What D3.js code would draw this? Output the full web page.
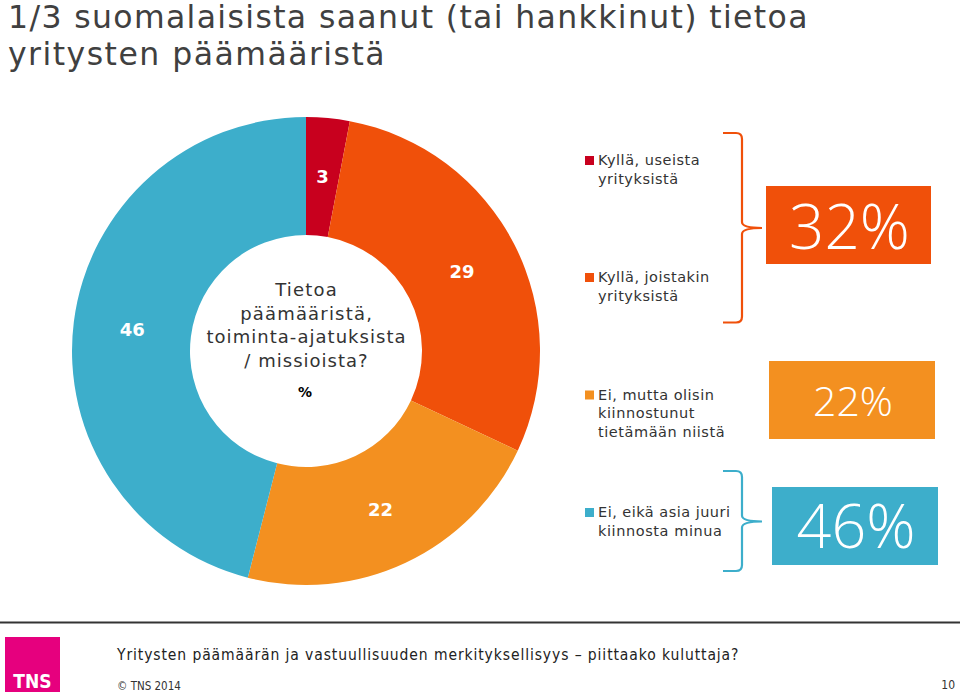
<!DOCTYPE html>
<html><head><meta charset="utf-8">
<script src="https://cdn.jsdelivr.net/npm/d3@7"></script>
<style>html,body{margin:0;padding:0;background:#fff;}svg{display:block;}</style>
</head><body>
<script>
const titleLines = ["1/3 suomalaisista saanut (tai hankkinut) tietoa", "yritysten päämääristä"];
const categories = ["Kyllä, useista yrityksistä", "Kyllä, joistakin yrityksistä", "Ei, mutta olisin kiinnostunut tietämään niistä", "Ei, eikä asia juuri kiinnosta minua"];
const legendLines = [["Kyllä, useista", "yrityksistä"], ["Kyllä, joistakin", "yrityksistä"], ["Ei, mutta olisin", "kiinnostunut", "tietämään niistä"], ["Ei, eikä asia juuri", "kiinnosta minua"]];
const values = [3, 29, 22, 46];
const colors = ["#C8001E", "#F0500A", "#F39020", "#3DAECB"];
const centerLines = ["Tietoa", "päämääristä,", "toiminta-ajatuksista", "/ missioista?"];
const unitLabel = "%";
const summaryLabels = ["32%", "22%", "46%"];
const summaryColors = ["#F0500A", "#F39020", "#3DAECB"];
const footerText = "Yritysten päämäärän ja vastuullisuuden merkityksellisyys – piittaako kuluttaja?";
const copyrightText = "© TNS 2014";
const pageNumber = "10";

const W = 960, H = 697;
const svg = d3.select("body").append("svg").attr("width", W).attr("height", H);
const font = "'DejaVu Sans', Verdana, sans-serif";

// widen DejaVu text to Verdana-like widths by spacing
function spread(sel, k) {
  sel.each(function () {
    const L = this.getComputedTextLength();
    d3.select(this).attr("textLength", L * k).attr("lengthAdjust", "spacing");
  });
}

// Title
svg.append("g").selectAll("text").data(titleLines).join("text")
  .attr("x", 8).attr("y", (d, i) => 28 + i * 37)
  .attr("font-family", font).attr("font-size", 31.5).attr("fill", "#404040")
  .text(d => d).call(spread, 1.085);

// Donut
const cx = 306, cy = 351, rOuter = 234, rInner = 116;
const pie = d3.pie().sort(null).value(d => d)(values);
const arc = d3.arc().innerRadius(rInner).outerRadius(rOuter);
const g = svg.append("g").attr("transform", `translate(${cx},${cy})`);
g.selectAll("path").data(pie).join("path")
  .attr("d", arc).attr("fill", (d, i) => colors[i]);
g.selectAll("text.lbl").data(pie).join("text").attr("class", "lbl")
  .attr("transform", d => `translate(${arc.centroid(d)})`)
  .attr("text-anchor", "middle").attr("dy", "0.36em")
  .attr("font-family", font).attr("font-weight", "bold").attr("font-size", 18)
  .attr("fill", "#fff").text(d => d.data);

// Center text
g.append("g").selectAll("text").data(centerLines).join("text")
  .attr("x", 0).attr("y", (d, i) => -55 + i * 23.5)
  .attr("text-anchor", "middle").attr("font-family", font).attr("font-size", 18)
  .attr("fill", "#333").text(d => d).call(spread, 1.11);
g.append("text").attr("x", -1).attr("y", 46).attr("text-anchor", "middle")
  .attr("font-family", font).attr("font-size", 14).attr("font-weight", "bold")
  .attr("fill", "#000").text(unitLabel);

// Legend
const legendTops = [165, 282, 399.5, 517];
const lg = svg.append("g");
categories.forEach((c, i) => {
  lg.append("rect").attr("x", 585).attr("y", legendTops[i] - 9).attr("width", 9).attr("height", 9).attr("fill", colors[i]);
  lg.append("g").selectAll("text").data(legendLines[i]).join("text")
    .attr("x", 598).attr("y", (d, j) => legendTops[i] + j * 18.5)
    .attr("font-family", font).attr("font-size", 14.5).attr("fill", "#333").text(d => d)
    .call(spread, 1.07);
});

// Braces
function brace(x0, y0, y1, ym, color) {
  const xv = x0 + 19, xt = x0 + 39, c = 6;
  const p = d3.path();
  p.moveTo(x0, y0);
  p.lineTo(xv - c, y0);
  p.quadraticCurveTo(xv, y0, xv, y0 + c);
  p.lineTo(xv, ym - c);
  p.quadraticCurveTo(xv, ym, xt, ym);
  p.moveTo(xv, ym + c);
  p.quadraticCurveTo(xv, ym, xt, ym);
  p.moveTo(xv, ym + c);
  p.lineTo(xv, y1 - c);
  p.quadraticCurveTo(xv, y1, xv - c, y1);
  p.lineTo(x0, y1);
  svg.append("path").attr("d", p.toString()).attr("fill", "none")
    .attr("stroke", color).attr("stroke-width", 2.2);
}
brace(723, 133, 322.5, 228, "#F0500A");
brace(723, 471, 571, 521.5, "#3DAECB");

// Summary boxes
const boxes = [
  {x: 766, y: 186, w: 165, h: 78, fs: 62, ty: 248.5},
  {x: 769, y: 361, w: 166, h: 78, fs: 41, ty: 415.5},
  {x: 772, y: 487, w: 166, h: 78, fs: 61, ty: 547.5}
];
boxes.forEach((b, i) => {
  svg.append("rect").attr("x", b.x).attr("y", b.y).attr("width", b.w).attr("height", b.h).attr("fill", summaryColors[i]);
  svg.append("text").attr("x", b.x + b.w / 2 + 1).attr("y", b.ty).attr("text-anchor", "middle")
    .attr("font-family", "'Open Sans', sans-serif").attr("font-weight", 300).attr("font-size", b.fs)
    .attr("fill", "#fff").text(summaryLabels[i]);
});

// Footer
const ffont = "'DejaVu Sans Condensed', 'DejaVu Sans', sans-serif";
svg.append("line").attr("x1", 0).attr("x2", W).attr("y1", 622.5).attr("y2", 622.5)
  .attr("stroke", "#333").attr("stroke-width", 2);
svg.append("rect").attr("x", 5).attr("y", 637).attr("width", 55).attr("height", 55).attr("fill", "#E6007E");
svg.append("text").attr("x", 32.5).attr("y", 688).attr("text-anchor", "middle")
  .attr("font-family", ffont).attr("font-weight", "bold")
  .attr("font-size", 19).attr("fill", "#fff").text("TNS");
svg.append("text").attr("x", 117).attr("y", 660).attr("font-family", ffont)
  .attr("font-size", 15.5).attr("fill", "#222").text(footerText).call(spread, 1.127);
svg.append("text").attr("x", 117).attr("y", 690).attr("font-family", ffont)
  .attr("font-size", 11.5).attr("fill", "#333").text(copyrightText);
svg.append("text").attr("x", 955).attr("y", 689).attr("text-anchor", "end").attr("font-family", ffont)
  .attr("font-size", 12).attr("fill", "#333").text(pageNumber);
</script>
</body></html>
